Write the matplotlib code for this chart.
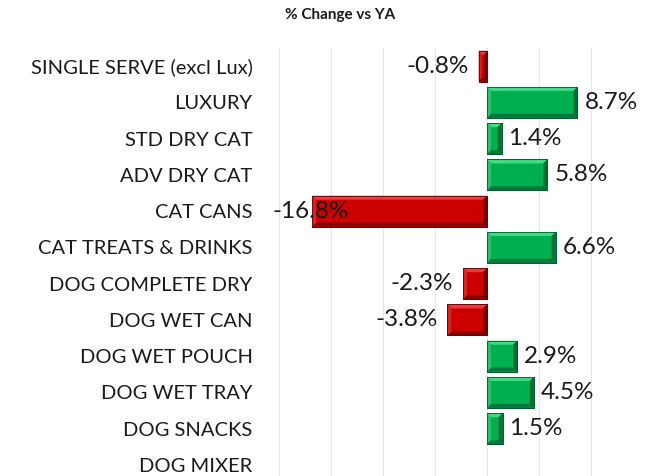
import matplotlib.pyplot as plt
import numpy as np

categories = ["SINGLE SERVE (excl Lux)", "LUXURY", "STD DRY CAT", "ADV DRY CAT",
              "CAT CANS", "CAT TREATS & DRINKS", "DOG COMPLETE DRY", "DOG WET CAN",
              "DOG WET POUCH", "DOG WET TRAY", "DOG SNACKS", "DOG MIXER"]
change = [-0.8, 8.7, 1.4, 5.8, -16.8, 6.6, -2.3, -3.8, 2.9, 4.5, 1.5, np.nan]

plt.rcParams["font.family"] = ["Lato", "DejaVu Sans"]

fig = plt.figure(figsize=(6.64, 4.76), dpi=100)
ax = fig.add_axes([279 / 664, -7 / 476, 364 / 664, (476 - 48 + 7) / 476])

y = np.arange(len(categories))
vals = np.array(change, dtype=float)
h = 0.85

# colour sets: (face, top, bottom, left, right, edge)
green = ("#00B050", "#3DDB82", "#00773A", "#25C468", "#006B33", "#005A2B")
red = ("#CC0000", "#EE3A3A", "#820000", "#DD2020", "#700000", "#6A0000")

bx, by = 0.38, 0.11
for i, v in enumerate(vals):
    if np.isnan(v):
        continue
    c = green if v >= 0 else red
    x0, x1 = min(0, v), max(0, v)
    yt, yb = i - h / 2, i + h / 2
    bw = min(bx, (x1 - x0) / 3)
    ax.barh(i, v, height=h, color=c[0], edgecolor=c[5], linewidth=0.6, zorder=2)
    ax.fill([x0, x1, x1 - bw, x0 + bw], [yt, yt, yt + by, yt + by], color=c[1], lw=0, zorder=3)
    ax.fill([x0, x1, x1 - bw, x0 + bw], [yb, yb, yb - by, yb - by], color=c[2], lw=0, zorder=3)
    ax.fill([x0, x0 + bw, x0 + bw, x0], [yt, yt + by, yb - by, yb], color=c[3], lw=0, zorder=3)
    ax.fill([x1, x1 - bw, x1 - bw, x1], [yt, yt + by, yb - by, yb], color=c[4], lw=0, zorder=3)
    ax.add_patch(plt.Rectangle((x0, yt), x1 - x0, h, fill=False, edgecolor=c[5], lw=0.6, zorder=4))

    lab = f"{v:.1f}%"
    if v >= 0:
        ax.annotate(lab, (v, i), xytext=(5, 0), textcoords="offset points",
                    ha="left", va="center", fontsize=17.5, color="#1a1a1a", zorder=5)
    elif v < -15:
        ax.annotate(lab, (-20, i), xytext=(-5, 0), textcoords="offset points",
                    ha="left", va="center", fontsize=17.5, color="#1a1a1a", zorder=5,
                    annotation_clip=False)
    else:
        ax.annotate(lab, (v, i), xytext=(-7, 0), textcoords="offset points",
                    ha="right", va="center", fontsize=17.5, color="#1a1a1a", zorder=5)

ax.set_xlim(-20, 15)
ax.set_ylim(len(categories) - 0.5, -0.5)
ax.set_xticks(np.arange(-20, 16, 5))
ax.xaxis.grid(True, color="#E6E6E6", linewidth=0.8, zorder=0)
ax.set_axisbelow(True)
ax.tick_params(axis="x", length=0, labelbottom=False)
ax.tick_params(axis="y", length=0, pad=19, labelsize=14.5)
ax.set_yticks(y)
ax.set_yticklabels(categories, color="#1a1a1a")
for s in ax.spines.values():
    s.set_visible(False)

fig.text(340 / 664, 1 - 15 / 476, "% Change vs YA", ha="center", va="center",
         fontsize=11, fontweight="bold", color="#1a1a1a")

fig.savefig("out.png", dpi=100)
